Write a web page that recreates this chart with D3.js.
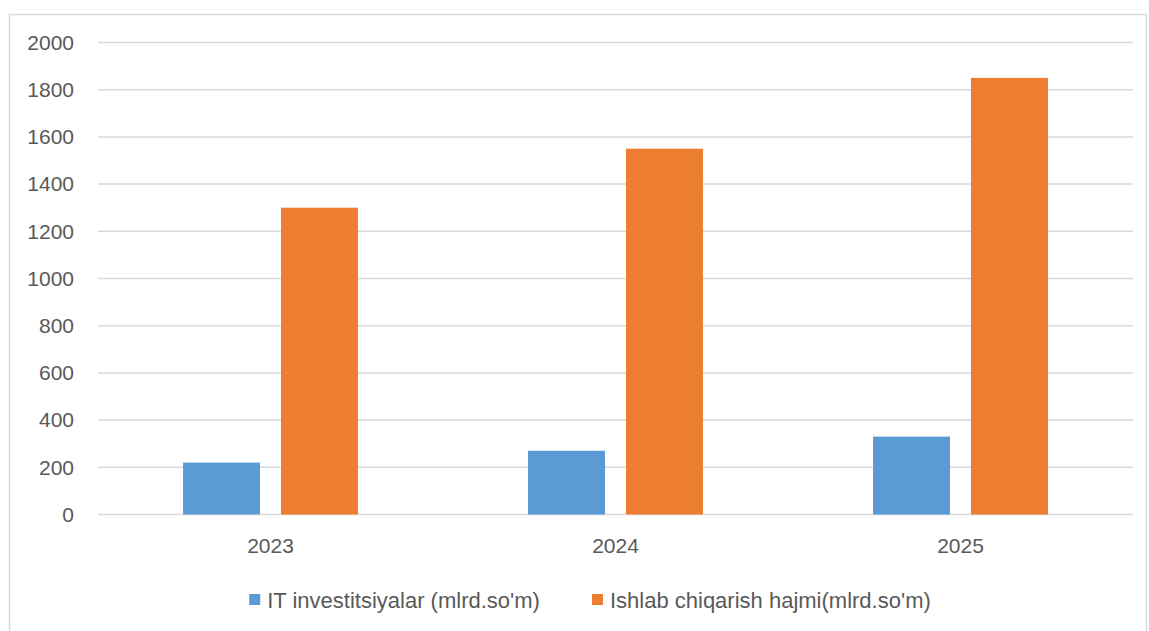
<!DOCTYPE html>
<html lang="en">
<head>
  <meta charset="UTF-8">
  <title>IT investitsiyalar</title>
  <script src="https://d3js.org/d3.v7.min.js"></script>
  <style>
    body { margin: 0; background: #fff; }
    text { font-family: "Liberation Sans", Arial, sans-serif; fill: #595959; }
  </style>
</head>
<body>
  <svg id="chart" width="1149" height="631"></svg>
  <script>
    // data
    const years = ["2023", "2024", "2025"];
    const seriesNames = ["IT investitsiyalar (mlrd.so'm)", "Ishlab chiqarish hajmi(mlrd.so'm)"];
    const itInvest = [220, 270, 330];
    const production = [1300, 1550, 1850];
    const yTicks = [0, 200, 400, 600, 800, 1000, 1200, 1400, 1600, 1800, 2000];
    const colors = ["#5B9BD5", "#ED7D31"];

    const svg = d3.select("#chart");
    const width = +svg.attr("width");
    const height = +svg.attr("height");
    const margin = { top: 42.5, right: 16, bottom: 116.5, left: 98 };
    const chartWidth = width - margin.left - margin.right;
    const chartHeight = height - margin.top - margin.bottom;

    // chart area border
    svg.append("rect")
      .attr("x", 9.5).attr("y", 14.5)
      .attr("width", 1137).attr("height", 660)
      .attr("fill", "none")
      .attr("stroke", "#d9d9d9")
      .attr("stroke-width", 1.5);

    const chart = svg.append("g")
      .attr("transform", "translate(" + margin.left + "," + margin.top + ")");

    const y = d3.scaleLinear().domain([0, 2000]).range([chartHeight, 0]);
    const x0 = d3.scaleBand().domain(years).range([0, chartWidth]).paddingInner(0.493).paddingOuter(0.2465);
    const x1 = d3.scaleBand().domain([0, 1]).range([0, x0.bandwidth()]).paddingInner(0.214);

    // gridlines
    chart.append("g")
      .selectAll("line")
      .data(yTicks)
      .join("line")
      .attr("x1", 0).attr("x2", chartWidth)
      .attr("y1", d => y(d)).attr("y2", d => y(d))
      .attr("stroke", "#d9d9d9")
      .attr("stroke-width", 1.5);

    // y axis labels
    const leftAxis = d3.axisLeft(y).tickValues(yTicks).tickFormat(d3.format("d")).tickSize(0).tickPadding(24);
    const yAxisArea = chart.append("g").call(leftAxis);
    yAxisArea.select(".domain").remove();
    yAxisArea.selectAll("text")
      .attr("fill", "#595959")
      .style("font-size", "21px")
      .style("font-family", "'Liberation Sans', Arial, sans-serif");

    // bars
    const rows = years.map((yr, i) => ({ year: yr, values: [itInvest[i], production[i]] }));
    const groups = chart.selectAll("g.year")
      .data(rows)
      .join("g")
      .attr("class", "year")
      .attr("transform", d => "translate(" + x0(d.year) + ",0)");

    groups.selectAll("rect")
      .data(d => d.values.map((v, k) => ({ k: k, v: v })))
      .join("rect")
      .attr("x", d => x1(d.k))
      .attr("width", x1.bandwidth())
      .attr("y", d => y(d.v))
      .attr("height", d => chartHeight - y(d.v))
      .attr("fill", d => colors[d.k]);

    // x axis labels
    const bottomAxis = d3.axisBottom(x0).tickSize(0).tickPadding(24);
    const xAxisArea = chart.append("g")
      .attr("transform", "translate(0," + chartHeight + ")")
      .call(bottomAxis);
    xAxisArea.select(".domain").remove();
    xAxisArea.selectAll("text")
      .attr("fill", "#595959")
      .style("font-size", "21px")
      .style("font-family", "'Liberation Sans', Arial, sans-serif");

    // legend
    const legend = svg.append("g");
    let lx = 0;
    seriesNames.forEach((name, i) => {
      const g = legend.append("g");
      g.append("rect")
        .attr("x", 0).attr("y", -6)
        .attr("width", 11).attr("height", 11)
        .attr("fill", colors[i]);
      const t = g.append("text")
        .attr("x", 18).attr("y", 0)
        .attr("dy", "0.35em")
        .style("font-size", "22px")
        .text(name);
      const w = 18 + t.node().getComputedTextLength();
      g.attr("transform", "translate(" + lx + ",0)");
      lx += w + 52;
    });
    const legendWidth = lx - 52;
    legend.attr("transform", "translate(" + (590 - legendWidth / 2) + ",600)");
  </script>
</body>
</html>
